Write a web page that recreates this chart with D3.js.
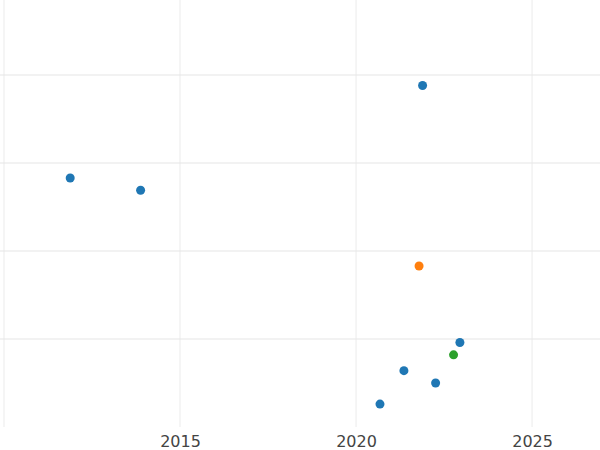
<!DOCTYPE html>
<html><head><meta charset="utf-8">
<script src="https://cdn.jsdelivr.net/npm/d3@7"></script>
<style>body{margin:0;background:#fff}</style></head>
<body><svg width="600" height="450"></svg>
<script>
const years = [2011.88, 2013.88, 2021.89, 2021.79, 2022.95, 2022.77, 2021.36, 2022.26, 2020.68];
const values = [2.83, 2.69, 3.88, 1.83, 0.96, 0.82, 0.64, 0.50, 0.26];
const groups = ["a","a","a","b","a","c","a","a","a"];
const xTicks = [2010, 2015, 2020, 2025];
const yTicks = [1, 2, 3, 4];
const colors = {a:"#1f77b4", b:"#ff7f0e", c:"#2ca02c"};

const svg = d3.select("svg");
const x = d3.scaleLinear().domain([2009.886, 2026.93]).range([0, 600]);
const y = d3.scaleLinear().domain([0, 4.852]).range([427, 0]);

svg.append("g").selectAll("line").data(xTicks).join("line")
  .attr("x1", d => x(d)).attr("x2", d => x(d)).attr("y1", 0).attr("y2", 427)
  .attr("stroke", "#ebebeb").attr("stroke-width", 1);
svg.append("g").selectAll("line").data(yTicks).join("line")
  .attr("x1", 0).attr("x2", 600).attr("y1", d => y(d)).attr("y2", d => y(d))
  .attr("stroke", "#e6e6e6").attr("stroke-width", 1.2);

const ax = svg.append("g").attr("transform", "translate(0,427)")
  .call(d3.axisBottom(x).tickValues(xTicks.slice(1)).tickFormat(d3.format("d")).tickSize(0).tickPadding(9));
ax.select(".domain").remove();
ax.selectAll("text").attr("font-family", "DejaVu Sans").attr("font-size", 16).attr("fill", "#444");

svg.append("g").selectAll("circle").data(years).join("circle")
  .attr("cx", d => x(d)).attr("cy", (d, i) => y(values[i])).attr("r", 4.5)
  .attr("fill", (d, i) => colors[groups[i]]);
</script></body></html>
